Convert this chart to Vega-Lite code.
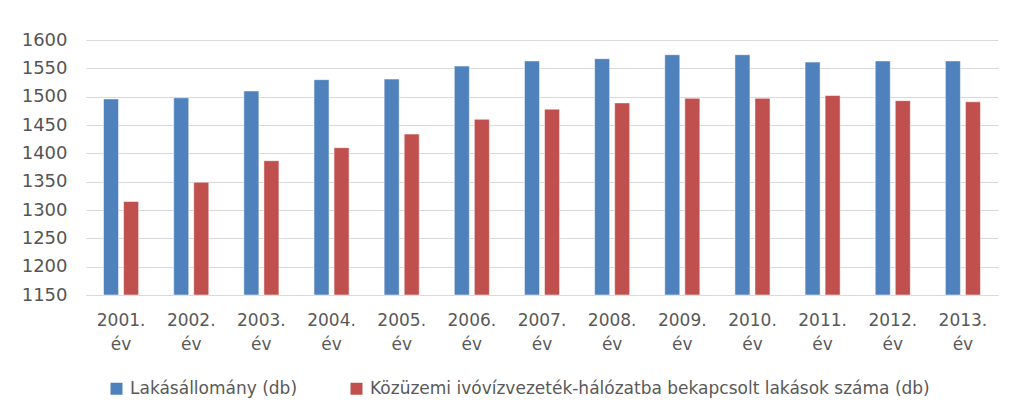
{
  "$schema": "https://vega.github.io/schema/vega-lite/v6.json",
  "autosize": "none",
  "width": 912,
  "height": 255,
  "padding": {"left": 86, "top": 40, "right": 13, "bottom": 118},
  "background": "white",
  "data": {
    "values": [
      {"ev": "2001. év", "sorozat": "Lakásállomány (db)", "db": 1496},
      {"ev": "2002. év", "sorozat": "Lakásállomány (db)", "db": 1498},
      {"ev": "2003. év", "sorozat": "Lakásállomány (db)", "db": 1510},
      {"ev": "2004. év", "sorozat": "Lakásállomány (db)", "db": 1530},
      {"ev": "2005. év", "sorozat": "Lakásállomány (db)", "db": 1531},
      {"ev": "2006. év", "sorozat": "Lakásállomány (db)", "db": 1554},
      {"ev": "2007. év", "sorozat": "Lakásállomány (db)", "db": 1563},
      {"ev": "2008. év", "sorozat": "Lakásállomány (db)", "db": 1567},
      {"ev": "2009. év", "sorozat": "Lakásállomány (db)", "db": 1574},
      {"ev": "2010. év", "sorozat": "Lakásállomány (db)", "db": 1574},
      {"ev": "2011. év", "sorozat": "Lakásállomány (db)", "db": 1561},
      {"ev": "2012. év", "sorozat": "Lakásállomány (db)", "db": 1563},
      {"ev": "2013. év", "sorozat": "Lakásállomány (db)", "db": 1563},
      {"ev": "2001. év", "sorozat": "Közüzemi ivóvízvezeték-hálózatba bekapcsolt lakások száma (db)", "db": 1315},
      {"ev": "2002. év", "sorozat": "Közüzemi ivóvízvezeték-hálózatba bekapcsolt lakások száma (db)", "db": 1349},
      {"ev": "2003. év", "sorozat": "Közüzemi ivóvízvezeték-hálózatba bekapcsolt lakások száma (db)", "db": 1387},
      {"ev": "2004. év", "sorozat": "Közüzemi ivóvízvezeték-hálózatba bekapcsolt lakások száma (db)", "db": 1410},
      {"ev": "2005. év", "sorozat": "Közüzemi ivóvízvezeték-hálózatba bekapcsolt lakások száma (db)", "db": 1434},
      {"ev": "2006. év", "sorozat": "Közüzemi ivóvízvezeték-hálózatba bekapcsolt lakások száma (db)", "db": 1460},
      {"ev": "2007. év", "sorozat": "Közüzemi ivóvízvezeték-hálózatba bekapcsolt lakások száma (db)", "db": 1478},
      {"ev": "2008. év", "sorozat": "Közüzemi ivóvízvezeték-hálózatba bekapcsolt lakások száma (db)", "db": 1489},
      {"ev": "2009. év", "sorozat": "Közüzemi ivóvízvezeték-hálózatba bekapcsolt lakások száma (db)", "db": 1497},
      {"ev": "2010. év", "sorozat": "Közüzemi ivóvízvezeték-hálózatba bekapcsolt lakások száma (db)", "db": 1497},
      {"ev": "2011. év", "sorozat": "Közüzemi ivóvízvezeték-hálózatba bekapcsolt lakások száma (db)", "db": 1502},
      {"ev": "2012. év", "sorozat": "Közüzemi ivóvízvezeték-hálózatba bekapcsolt lakások száma (db)", "db": 1493},
      {"ev": "2013. év", "sorozat": "Közüzemi ivóvízvezeték-hálózatba bekapcsolt lakások száma (db)", "db": 1491}
    ]
  },
  "mark": {"type": "bar", "stroke": "#ffffff", "strokeOpacity": 0.5, "strokeWidth": 1},
  "encoding": {
    "x": {
      "field": "ev",
      "type": "nominal",
      "sort": null,
      "scale": {"paddingInner": 0.5, "paddingOuter": 0.25},
      "axis": {
        "title": null,
        "labelAngle": 0,
        "labelExpr": "split(datum.label, ' ')",
        "labelFont": "DejaVu Sans",
        "labelFontSize": 17,
        "labelColor": "#595959",
        "labelLineHeight": 24,
        "labelPadding": 17,
        "ticks": false,
        "domain": true,
        "domainColor": "#D9D9D9",
        "domainWidth": 1,
        "grid": false
      }
    },
    "xOffset": {
      "field": "sorozat",
      "type": "nominal",
      "sort": ["Lakásállomány (db)", "Közüzemi ivóvízvezeték-hálózatba bekapcsolt lakások száma (db)"],
      "scale": {"paddingInner": 0.25, "paddingOuter": 0}
    },
    "y": {
      "field": "db",
      "type": "quantitative",
      "scale": {"domain": [1150, 1600], "zero": false, "nice": false},
      "axis": {
        "title": null,
        "format": "d",
        "values": [1150, 1200, 1250, 1300, 1350, 1400, 1450, 1500, 1550, 1600],
        "labelFont": "DejaVu Sans",
        "labelFontSize": 18,
        "labelColor": "#555555",
        "labelPadding": 19,
        "ticks": false,
        "domain": false,
        "grid": true,
        "gridColor": "#D9D9D9",
        "gridWidth": 1
      }
    },
    "y2": {"datum": 1150},
    "color": {
      "field": "sorozat",
      "type": "nominal",
      "sort": ["Lakásállomány (db)", "Közüzemi ivóvízvezeték-hálózatba bekapcsolt lakások száma (db)"],
      "scale": {
        "domain": ["Lakásállomány (db)", "Közüzemi ivóvízvezeték-hálózatba bekapcsolt lakások száma (db)"],
        "range": ["#4F81BD", "#C0504D"]
      },
      "legend": {
        "title": null,
        "orient": "none",
        "legendX": 22,
        "legendY": 340,
        "direction": "horizontal",
        "symbolType": "square",
        "symbolSize": 144,
        "symbolStrokeWidth": 0,
        "labelFont": "DejaVu Sans",
        "labelFontSize": 17,
        "labelColor": "#595959",
        "labelOffset": 5,
        "columnPadding": 50,
        "labelLimit": 800
      }
    }
  },
  "config": {"view": {"stroke": null}}
}
